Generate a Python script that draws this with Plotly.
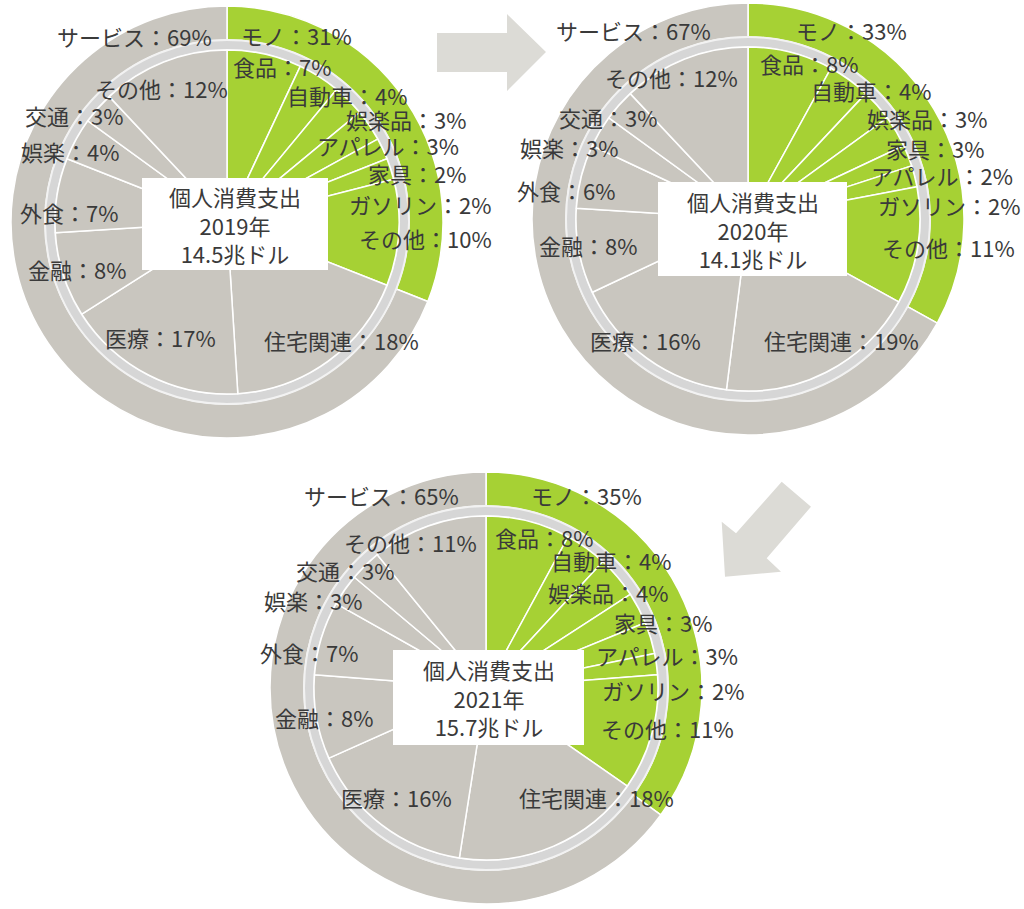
import plotly.graph_objects as go

# ---------------- data ----------------
years = ["2019年", "2020年", "2021年"]
totals = [14.5, 14.1, 15.7]          # 兆ドル
ring_labels = ["モノ", "サービス"]
goods_share = [31, 33, 35]
service_share = [69, 67, 65]

goods_labels_2019 = ["食品", "自動車", "娯楽品", "アパレル", "家具", "ガソリン", "その他"]
goods_values_2019 = [7, 4, 3, 3, 2, 2, 10]
goods_labels_2020 = ["食品", "自動車", "娯楽品", "家具", "アパレル", "ガソリン", "その他"]
goods_values_2020 = [8, 4, 3, 3, 2, 2, 11]
goods_labels_2021 = ["食品", "自動車", "娯楽品", "家具", "アパレル", "ガソリン", "その他"]
goods_values_2021 = [8, 4, 4, 3, 3, 2, 11]

service_labels = ["住宅関連", "医療", "金融", "外食", "娯楽", "交通", "その他"]
service_values_2019 = [18, 17, 8, 7, 4, 3, 12]
service_values_2020 = [19, 16, 8, 6, 3, 3, 12]
service_values_2021 = [18, 16, 8, 7, 3, 3, 11]

goods_labels = [goods_labels_2019, goods_labels_2020, goods_labels_2021]
goods_values = [goods_values_2019, goods_values_2020, goods_values_2021]
service_values = [service_values_2019, service_values_2020, service_values_2021]

# ---------------- layout / style ----------------
W, H = 1024, 909
GREEN = "#a6d134"
GREY = "#c9c6bf"
BAND = "#d6d6d6"
ARROW = "#dcdbd6"
TXT = "#3a3a3a"
FONT = "Noto Sans CJK JP"
FS = 22

R_OUT, R_BAND, R_IN = 216, 182, 172
centers = [(227, 222), (748, 219), (486, 688)]
boxes = [(142, 178, 328, 270), (658, 182, 847, 276), (393, 650, 584, 745)]

# label centres (pixels): [サービス, モノ, goods..., services...]
label_xy = [
    [(134, 36), (296, 35),
     (282, 66), (347, 95), (406, 119), (388, 145), (417, 173), (420, 204), (425, 238),
     (341, 340), (160, 337), (77, 269), (69, 212), (70, 151), (74, 115), (161, 88)],
    [(633, 30), (851, 30),
     (809, 63), (871, 90), (927, 118), (935, 148), (942, 175), (949, 205), (948, 247),
     (841, 340), (645, 340), (588, 245), (566, 190), (569, 147), (608, 117), (671, 77)],
    [(381, 495), (586, 495),
     (544, 537), (611, 560), (608, 592), (663, 622), (667, 655), (673, 690), (667, 728),
     (596, 797), (396, 797), (324, 717), (309, 652), (313, 600), (345, 570), (410, 542)],
]

arrows = [
    [(437, 33), (507, 33), (507, 14), (546, 52), (507, 91), (507, 72), (437, 72)],
    [(781.7, 481.7), (811, 506.7), (766.7, 558.3), (781, 571.7), (725, 576.7),
     (721.7, 521.7), (736, 533.3)],
]


def px(x):
    return x / W


def py(y):
    return 1 - y / H


def domain(c, r):
    cx, cy = c
    return dict(x=[px(cx - r), px(cx + r)], y=[py(cy + r), py(cy - r)])


fig = go.Figure()
annotations = []
shapes = []

for i, c in enumerate(centers):
    # outer ring: モノ / サービス
    fig.add_trace(go.Pie(
        labels=ring_labels, values=[goods_share[i], service_share[i]],
        sort=False, direction="clockwise", rotation=0,
        hole=R_BAND / R_OUT, domain=domain(c, R_OUT),
        marker=dict(colors=[GREEN, GREY], line=dict(color="white", width=1.5)),
        textinfo="none", textposition="none", showlegend=False, hoverinfo="label+percent",
    ))
    # light band between ring and inner pie
    fig.add_trace(go.Pie(
        labels=["band"], values=[1], sort=False,
        hole=R_IN / R_BAND, domain=domain(c, R_BAND),
        marker=dict(colors=[BAND], line=dict(color="#f2f2f2", width=2)),
        textinfo="none", textposition="none", showlegend=False, hoverinfo="skip",
    ))
    # inner pie with breakdown
    inner_ids = ["モノ・" + l for l in goods_labels[i]] + ["サービス・" + l for l in service_labels]
    inner_vals = goods_values[i] + service_values[i]
    inner_cols = [GREEN] * len(goods_values[i]) + [GREY] * len(service_values[i])
    fig.add_trace(go.Pie(
        labels=inner_ids, values=inner_vals, sort=False,
        direction="clockwise", rotation=0, domain=domain(c, R_IN),
        marker=dict(colors=inner_cols, line=dict(color="white", width=1.5)),
        textinfo="none", textposition="none", showlegend=False, hoverinfo="label+value",
    ))

    # labels
    texts = [f"{ring_labels[1]}：{service_share[i]}%", f"{ring_labels[0]}：{goods_share[i]}%"]
    texts += [f"{l}：{v}%" for l, v in zip(goods_labels[i], goods_values[i])]
    texts += [f"{l}：{v}%" for l, v in zip(service_labels, service_values[i])]
    for t, (x, y) in zip(texts, label_xy[i]):
        annotations.append(dict(
            text=t, x=px(x), y=py(y), xref="paper", yref="paper",
            xanchor="center", yanchor="middle", showarrow=False,
            font=dict(family=FONT, size=FS, color=TXT),
        ))

    # centre box
    x0, y0, x1, y1 = boxes[i]
    shapes.append(dict(type="rect", xref="paper", yref="paper",
                       x0=px(x0), x1=px(x1), y0=py(y1), y1=py(y0),
                       fillcolor="white", line=dict(width=0), layer="above"))
    annotations.append(dict(
        text=f"個人消費支出<br>{years[i]}<br>{totals[i]}兆ドル",
        x=px((x0 + x1) / 2), y=py((y0 + y1) / 2), xref="paper", yref="paper",
        xanchor="center", yanchor="middle", showarrow=False,
        font=dict(family=FONT, size=FS, color=TXT),
    ))

for poly in arrows:
    path = "M " + " L ".join(f"{px(x):.5f},{py(y):.5f}" for x, y in poly) + " Z"
    shapes.append(dict(type="path", xref="paper", yref="paper", path=path,
                       fillcolor=ARROW, line=dict(width=0), layer="above"))

fig.update_layout(
    width=W, height=H,
    margin=dict(l=0, r=0, t=0, b=0),
    paper_bgcolor="white", plot_bgcolor="white",
    annotations=annotations, shapes=shapes,
    showlegend=False,
)

fig.write_html("out.html", config={"displayModeBar": False})
